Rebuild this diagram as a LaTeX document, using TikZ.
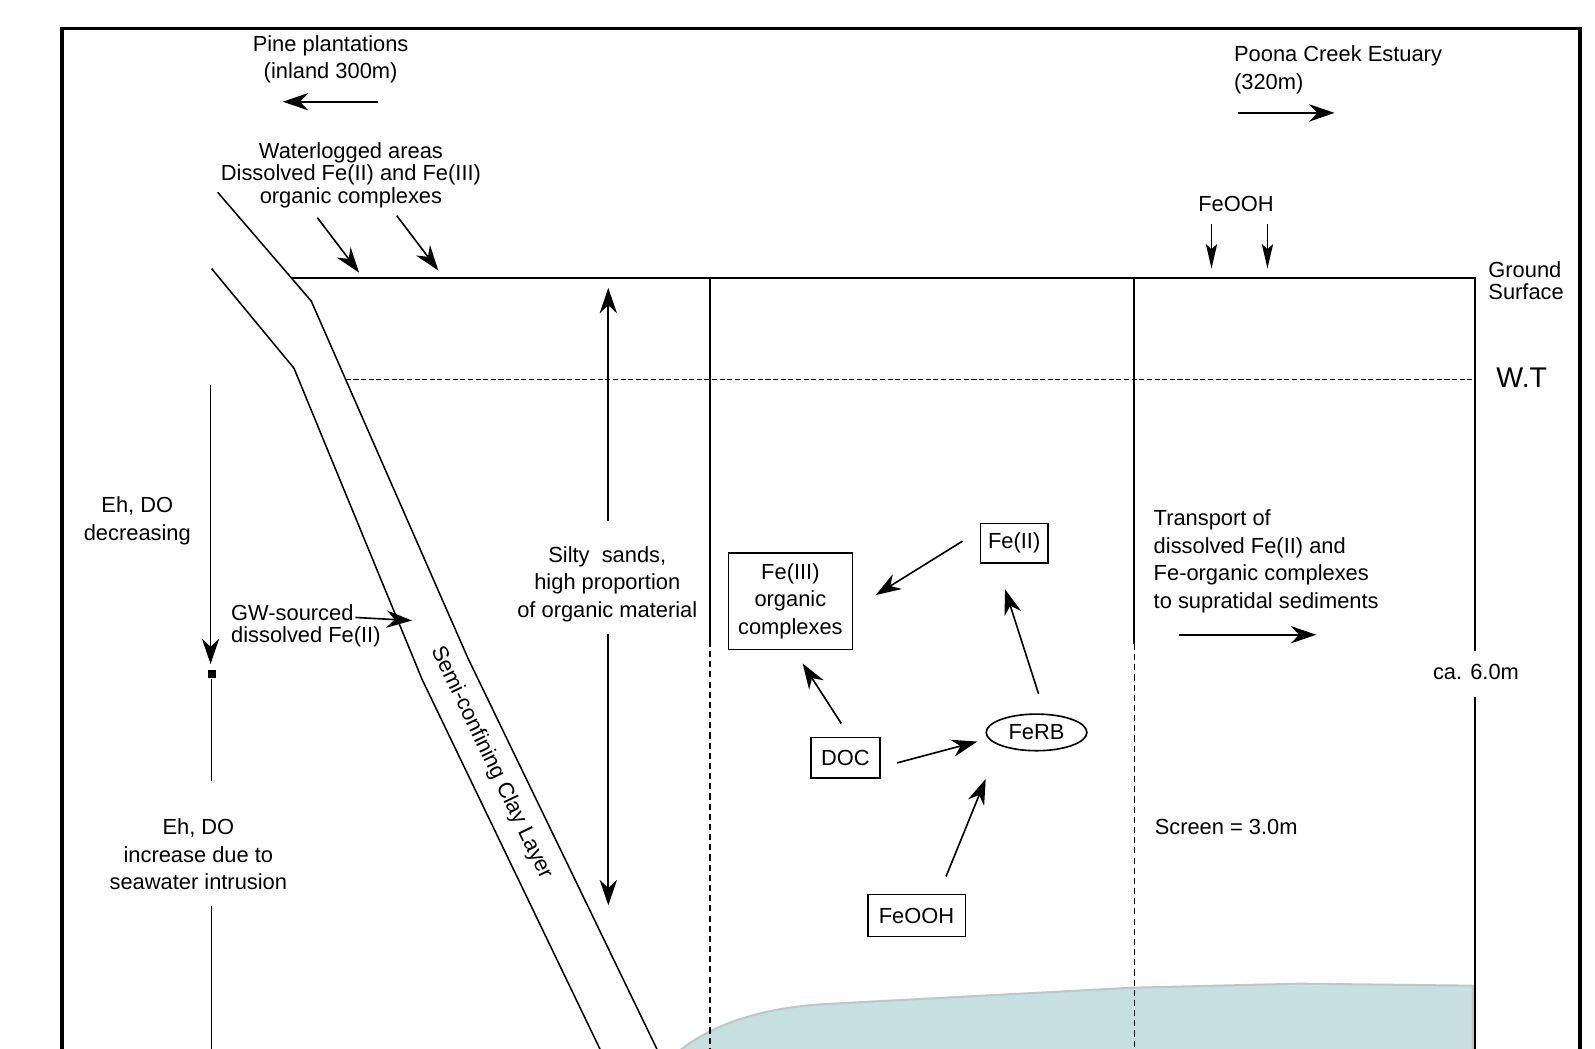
\documentclass[tikz,border=0pt]{standalone}
\usepackage{fontspec}
\setmainfont{Liberation Sans}
\usetikzlibrary{arrows.meta,shapes.geometric,calc}
\definecolor{sea}{HTML}{C6DFE0}
\definecolor{seaedge}{HTML}{C4C4C4}
\begin{document}
\begin{tikzpicture}[x=1pt,y=-1pt,
  lw/.style={line width=1.5pt},
  txt/.style={font=\fontsize{21.5}{27}\selectfont, inner sep=0pt, align=center},
  tighttxt/.style={font=\fontsize{21.5}{22}\selectfont, inner sep=0pt},
  box/.style={draw, line width=1.6pt, inner sep=0pt, font=\fontsize{21.5}{27}\selectfont, align=center},
  arr/.style={line width=1.6pt, -{Stealth[length=25pt,width=17pt,inset=8pt]}},
  sarr/.style={line width=1.6pt, -{Stealth[length=24pt,width=11pt,inset=5pt]}},
  dashv/.style={line width=1.3pt, dash pattern=on 6pt off 4pt},
]
\useasboundingbox (0,0) rectangle (1568,1031);
\fill[white] (0,0) rectangle (1568,1031);
\begin{scope}
\clip (0,0) rectangle (1568,1031);
% seawater wedge
\fill[sea, draw=seaedge, line width=2pt] (664,1036) .. controls (698,1008) and (745,991) .. (812,987) -- (1113,971) -- (1278,967) -- (1448,969) -- (1448,1040) -- (664,1040) -- cycle;
% frame
\draw[line width=3.6pt] (61,1040) -- (61,28) -- (1553,28) -- (1553,1040);
% clay layer
\draw[lw] (214,189) -- (306,296) -- (460,647) -- (650,1040);
\draw[lw] (208,264) -- (289,362) -- (415,668) -- (594,1040);
% ground surface and right edge
\draw[line width=1.7pt] (287,273) -- (1450,273) -- (1450,640);
\draw[lw] (1450,685) -- (1450,1040);
% wells
\draw[lw] (698,273) -- (698,630);
\draw[dashv] (698,630) -- (698,1040);
\draw[lw] (1115,273) -- (1115,633);
\draw[dashv] (1115,633) -- (1115,1040);
% water table
\draw[line width=1.2pt, dash pattern=on 5pt off 2.5pt] (340,373) -- (1450,373);
\end{scope}

% texts
\node[txt] (pine) at (325,58.5) {Pine plantations\\(inland 300m)};
\node[txt, anchor=west, align=left] (poona) at (1213,68.5) {Poona Creek Estuary\\(320m)};
\node[tighttxt, align=center] (water) at (345,172) {Waterlogged areas\\Dissolved Fe(II) and Fe(III)\\organic complexes};
\node[txt] (feoohtop) at (1215,201) {FeOOH};
\node[tighttxt, anchor=west, align=left] (ground) at (1463,276) {Ground\\Surface};
\node[inner sep=0pt, font=\fontsize{28}{32}\selectfont] (wt) at (1496,371) {W.T};
\node[txt] (ehdec) at (135,512) {Eh, DO\\decreasing};
\node[tighttxt, anchor=west, align=left] (gw) at (227,615) {GW-sourced\\dissolved Fe(II)};
\node[txt] (ehinc) at (195,840) {Eh, DO\\increase due to\\seawater intrusion};
\node[txt] (silty) at (597,574) {Silty\ \ sands,\\high proportion\\of organic material};
\node[txt, anchor=west, align=left] (transport) at (1134,552) {Transport of\\dissolved Fe(II) and\\Fe-organic complexes\\to supratidal sediments};
\node[txt] (ca) at (1451,661) {ca. 6.0m};
\node[txt, anchor=west] (screen) at (1135,813) {Screen = 3.0m};
\node[txt, rotate=-64.4] (clay) at (483,750) {Semi-confining Clay Layer};

% process boxes
\node[box, minimum width=122pt, minimum height=95pt] (fe3) at (777,591) {Fe(III)\\organic\\complexes};
\node[box, minimum width=66pt, minimum height=39pt] (fe2) at (997,534) {Fe(II)};
\node[box, minimum width=68pt, minimum height=40pt] (doc) at (831,745) {DOC};
\node[box, minimum width=96pt, minimum height=41pt] (feooh) at (901,900) {FeOOH};
\node[draw, ellipse, line width=1.6pt, inner sep=0pt, minimum width=99pt, minimum height=36pt, font=\fontsize{21.5}{27}\selectfont] (ferb) at (1019,720) {FeRB};

% process arrows
\draw[arr] ($(fe2.west)+(-17,-2)$) -- ($(fe3.east)+(22,-6)$);
\draw[arr] ($(ferb.north)+(2,-19)$) -- ($(fe2.south)+(-9,25)$);
\draw[arr] ($(doc.north)+(-4,-13)$) -- ($(fe3.south)+(12,13)$);
\draw[arr] ($(doc.east)+(16,5)$) -- ($(ferb.west)+(-8,9)$);
\draw[arr] ($(feooh.north)+(29,-17)$) -- ($(ferb.south)+(-50,27)$);

% direction arrows
\coordinate (pineA) at (372,100); \coordinate (pineB) at (278,100);
\draw[arr] (pineA) -- (pineB);
\coordinate (poonaA) at (1217,111); \coordinate (poonaB) at (1312,111);
\draw[arr] (poonaA) -- (poonaB);
\coordinate (w1A) at (312,214); \coordinate (w1B) at (353,268);
\coordinate (w2A) at (390,212); \coordinate (w2B) at (431,266);
\draw[arr] (w1A) -- (w1B);
\draw[arr] (w2A) -- (w2B);
\coordinate (f1A) at (1191,220); \coordinate (f1B) at (1191,264);
\coordinate (f2A) at (1246,220); \coordinate (f2B) at (1246,264);
\draw[sarr] (f1A) -- (f1B);
\draw[sarr] (f2A) -- (f2B);
\coordinate (trA) at (1159,624); \coordinate (trB) at (1294,624);
\draw[arr] (trA) -- (trB);
\coordinate (gwB) at (405,610);
\draw[arr] ($(gw.east)+(-25,-8)$) -- (gwB);
% silty sands thickness arrows
\coordinate (sUp) at (598,283); \coordinate (sDn) at (598,890);
\draw[arr] ($(silty.north)+(1,-25)$) -- (sUp);
\draw[arr] ($(silty.south)+(1,12)$) -- (sDn);
% Eh / DO profile
\node[fill, minimum size=8pt, inner sep=0pt] (sq) at (208,663) {};
\coordinate (ehTop) at (207,378);
\draw[arr] (ehTop) -- ($(sq.north)+(-1,-6)$);
\draw[line width=1.1pt] (sq) -- ($(ehinc.north)+(13,-37)$);
\coordinate (ehBot) at (208,1031);
\draw[line width=1.1pt] ($(ehinc.south)+(13,16)$) -- (ehBot);
\end{tikzpicture}
\end{document}
